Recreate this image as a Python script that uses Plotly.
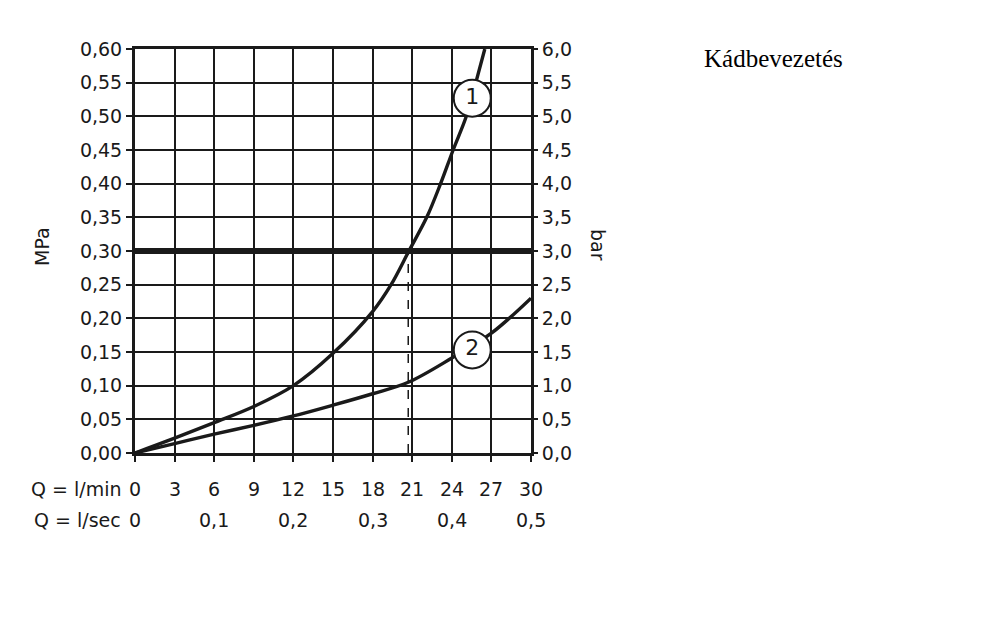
import plotly.graph_objects as go

# Curve 1 (MPa vs l/min)
q1 = [0, 3, 6, 9, 12, 15, 18, 19.4, 20.75, 22.1, 23.15, 24.1, 25.1, 25.9, 26.5]
p1 = [0, 0.022, 0.045, 0.069, 0.100, 0.148, 0.210, 0.250, 0.300, 0.350, 0.400, 0.450, 0.500, 0.556, 0.600]
# Curve 2
q2 = [0, 3, 6, 9, 12, 15, 18, 20.7, 24, 27, 30]
p2 = [0, 0.014, 0.028, 0.041, 0.055, 0.071, 0.088, 0.105, 0.141, 0.178, 0.230]

ref_pressure = 0.30
ref_flow = 20.7

labels = ["1", "2"]
label_q = [25.55, 25.55]
label_p = [0.527, 0.153]

lmin_ticks = [0, 3, 6, 9, 12, 15, 18, 21, 24, 27, 30]
lsec_pos = [0, 6, 12, 18, 24, 30]
lsec_text = ["0", "0,1", "0,2", "0,3", "0,4", "0,5"]
mpa_ticks = [round(i * 0.05, 2) for i in range(13)]
bar_ticks = [round(i * 0.5, 1) for i in range(13)]

FONT = "DejaVu Sans"
FS = 19
INK = "#1a1a1a"

fig = go.Figure()

fig.add_trace(go.Scatter(x=[0, 30], y=[ref_pressure, ref_pressure], mode="lines",
                         line=dict(color=INK, width=6), showlegend=False))
fig.add_trace(go.Scatter(x=[ref_flow, ref_flow], y=[0, ref_pressure], mode="lines",
                         line=dict(color=INK, width=1.5, dash="dash"), showlegend=False))
fig.add_trace(go.Scatter(x=q1, y=p1, mode="lines", line=dict(color=INK, width=3.4, shape="spline"),
                         showlegend=False))
fig.add_trace(go.Scatter(x=q2, y=p2, mode="lines", line=dict(color=INK, width=3.4, shape="spline"),
                         showlegend=False))
fig.add_trace(go.Scatter(x=label_q, y=label_p, mode="markers+text", text=labels,
                         textposition="middle center",
                         textfont=dict(family=FONT, size=22, color=INK),
                         marker=dict(size=37, color="white", line=dict(color=INK, width=2)),
                         showlegend=False))
# invisible trace for right axis
fig.add_trace(go.Scatter(x=[0], y=[0], yaxis="y2", mode="markers", marker=dict(opacity=0),
                         showlegend=False, hoverinfo="skip"))

annotations = []
for q in lmin_ticks:
    annotations.append(dict(x=q, y=0, xref="x", yref="paper", text=str(q), showarrow=False,
                            yanchor="middle", yshift=-36, font=dict(family=FONT, size=FS, color=INK)))
for q, t in zip(lsec_pos, lsec_text):
    annotations.append(dict(x=q, y=0, xref="x", yref="paper", text=t, showarrow=False,
                            yanchor="middle", yshift=-67, font=dict(family=FONT, size=FS, color=INK)))
annotations.append(dict(x=0, y=0, xref="paper", yref="paper", text="Q = l/min", showarrow=False,
                        xanchor="right", yanchor="middle", xshift=-12, yshift=-36,
                        font=dict(family=FONT, size=FS, color=INK)))
annotations.append(dict(x=0, y=0, xref="paper", yref="paper", text="Q = l/sec", showarrow=False,
                        xanchor="right", yanchor="middle", xshift=-12, yshift=-67,
                        font=dict(family=FONT, size=FS, color=INK)))
annotations.append(dict(x=0, y=0.5, xref="paper", yref="paper", text="MPa", showarrow=False,
                        textangle=-90, xanchor="center", yanchor="middle", xshift=-93, yshift=4,
                        font=dict(family=FONT, size=FS, color=INK)))
annotations.append(dict(x=1, y=0.5, xref="paper", yref="paper", text="bar", showarrow=False,
                        textangle=90, xanchor="center", yanchor="middle", xshift=67, yshift=6,
                        font=dict(family=FONT, size=FS, color=INK)))
annotations.append(dict(x=(773 - 135) / 396, y=1 - (58 - 49) / 404, xref="paper", yref="paper",
                        text="Kádbevezetés", showarrow=False, xanchor="center", yanchor="middle",
                        font=dict(family="Liberation Serif", size=25, color="black")))

fig.update_layout(
    width=1000, height=638,
    margin=dict(l=127, r=477, t=41, b=193),
    paper_bgcolor="white", plot_bgcolor="white",
    separators=",.",
    xaxis=dict(range=[0, 30], tickvals=lmin_ticks, showticklabels=False, ticks="outside",
               ticklen=6, tickwidth=2, tickcolor=INK, showgrid=True, gridcolor=INK, gridwidth=2,
               showline=True, linecolor=INK, linewidth=3, mirror=True, zeroline=False,
               automargin=False),
    yaxis=dict(range=[0, 0.6], tickvals=mpa_ticks, tickformat=".2f", ticks="outside",
               ticklen=6, tickwidth=2, tickcolor=INK, showgrid=True, gridcolor=INK, gridwidth=2,
               showline=True, linecolor=INK, linewidth=3, mirror=True, zeroline=False,
               tickfont=dict(family=FONT, size=FS, color=INK), automargin=False),
    yaxis2=dict(range=[0, 6], tickvals=bar_ticks, tickformat=".1f", overlaying="y", side="right",
                ticks="outside", ticklen=6, tickwidth=2, tickcolor=INK, showgrid=False,
                zeroline=False, tickfont=dict(family=FONT, size=FS, color=INK), automargin=False),
    annotations=annotations,
)

fig.write_html("out.html")
